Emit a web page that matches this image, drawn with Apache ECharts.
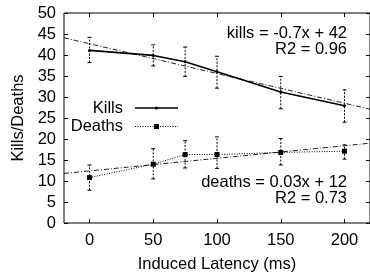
<!DOCTYPE html>
<html><head><meta charset="utf-8">
<script src="https://cdn.jsdelivr.net/npm/echarts@6/dist/echarts.min.js"></script>
<style>html,body{margin:0;padding:0;background:#fff}#c{width:370px;height:278px}</style>
</head><body><div id="c"></div>
<script>
const latency = [0, 50, 75, 100, 150, 200];
const kills = [41.1, 39.9, 38.4, 36.0, 31.2, 27.9];
const killsLow = [38.2, 37.4, 34.9, 32.1, 27.2, 24.0];
const killsHigh = [44.2, 42.4, 41.9, 39.7, 34.9, 31.7];
const deaths = [10.8, 14.0, 16.3, 16.3, 16.8, 17.1];
const deathsLow = [7.8, 10.5, 13.1, 13.0, 13.8, 15.2];
const deathsHigh = [13.8, 17.7, 19.6, 20.5, 20.1, 18.6];
const fitX = [-20, 220];
const killsFit = [44.1, 27.1];
const deathsFit = [11.8, 19.0];
const xTicks = [0, 50, 100, 150, 200];
const legendNames = ['Kills', 'Deaths'];

const FONT = 'Liberation Sans';
const FS = 16.5;
const pairs = (xs, ys) => xs.map((x, i) => [x, ys[i]]);

function errSeries(name, low, high) {
  return {
    type: 'custom', name, z: 1,
    data: latency.map((x, i) => [x, low[i], high[i]]),
    renderItem: (params, api) => {
      const a = api.coord([api.value(0), api.value(1)]);
      const b = api.coord([api.value(0), api.value(2)]);
      const w = 2;
      const st = {stroke: '#000', lineWidth: 1, lineDash: [2, 1.5]};
      return {type: 'group', children: [
        {type: 'line', shape: {x1: a[0], y1: a[1], x2: b[0], y2: b[1]}, style: st},
        {type: 'line', shape: {x1: a[0]-w, y1: a[1], x2: a[0]+w, y2: a[1]}, style: {stroke: '#000', lineWidth: 1}},
        {type: 'line', shape: {x1: b[0]-w, y1: b[1], x2: b[0]+w, y2: b[1]}, style: {stroke: '#000', lineWidth: 1}}
      ]};
    }
  };
}

const chart = echarts.init(document.getElementById('c'), null, {renderer: 'canvas'});
const axisCommon = {
  axisLine: {show: false, onZero: false},
  splitLine: {show: false},
  axisTick: {inside: true, length: 4, lineStyle: {color: '#000'}}
};
const txt = (text, x, y, align) => ({type: 'text', x, y, style: {text, font: FS + 'px ' + FONT, fill: '#000', textAlign: align, textVerticalAlign: 'middle'}});
chart.setOption({
  animation: false,
  textStyle: {fontFamily: FONT},
  grid: {left: 64, right: -1, top: 13, bottom: 55, show: true, borderColor: '#000', borderWidth: 1, backgroundColor: 'transparent'},
  xAxis: [
    Object.assign({}, axisCommon, {
      type: 'value', min: -20, max: 220, position: 'bottom',
      name: 'Induced Latency (ms)', nameLocation: 'middle', nameGap: 33,
      nameTextStyle: {fontFamily: FONT, fontSize: FS, color: '#000'},
      axisTick: {inside: true, length: 4, lineStyle: {color: '#000'}, customValues: xTicks},
      axisLabel: {customValues: xTicks, fontFamily: FONT, fontSize: FS, color: '#000', margin: 9}
    }),
    Object.assign({}, axisCommon, {
      type: 'value', min: -20, max: 220, position: 'top',
      axisTick: {inside: true, length: 4, lineStyle: {color: '#000'}, customValues: xTicks},
      axisLabel: {show: false}
    })
  ],
  yAxis: [
    Object.assign({}, axisCommon, {
      type: 'value', min: 0, max: 50, interval: 5, position: 'left',
      name: 'Kills/Deaths', nameLocation: 'middle', nameGap: 33,
      nameTextStyle: {fontFamily: FONT, fontSize: FS, color: '#000'},
      axisLabel: {fontFamily: FONT, fontSize: FS, color: '#000', margin: 8}
    }),
    Object.assign({}, axisCommon, {
      type: 'value', min: 0, max: 50, interval: 5, position: 'right',
      axisLabel: {show: false}
    })
  ],
  series: [
    errSeries('killsErr', killsLow, killsHigh),
    errSeries('deathsErr', deathsLow, deathsHigh),
    {type: 'line', name: 'killsFit', data: pairs(fitX, killsFit), symbol: 'none', z: 2,
     lineStyle: {color: '#222', width: 1, type: [5, 2, 1, 2]}},
    {type: 'line', name: 'deathsFit', data: pairs(fitX, deathsFit), symbol: 'none', z: 2,
     lineStyle: {color: '#222', width: 1, type: [5, 2, 1, 2]}},
    {type: 'line', name: 'Kills', data: pairs(latency, kills), symbol: 'circle', symbolSize: 3, z: 3,
     itemStyle: {color: '#000'}, lineStyle: {color: '#000', width: 1.6}},
    {type: 'line', name: 'Deaths', data: pairs(latency, deaths), symbol: 'rect', symbolSize: 5, z: 3,
     itemStyle: {color: '#000'}, lineStyle: {color: '#000', width: 1, type: [1, 1.5]}}
  ],
  graphic: [
    txt('kills = -0.7x + 42', 347, 33, 'right'),
    txt('R2 = 0.96', 347, 49, 'right'),
    txt('deaths = 0.03x + 12', 347, 182, 'right'),
    txt('R2 = 0.73', 347, 198, 'right'),
    txt(legendNames[0], 123, 108, 'right'),
    txt(legendNames[1], 123, 126, 'right'),
    {type: 'line', shape: {x1: 135, y1: 108, x2: 178, y2: 108}, style: {stroke: '#000', lineWidth: 1.6}},
    {type: 'circle', shape: {cx: 156.5, cy: 108, r: 1.5}, style: {fill: '#000'}},
    {type: 'line', shape: {x1: 135, y1: 126.5, x2: 178, y2: 126.5}, style: {stroke: '#000', lineWidth: 1, lineDash: [1, 1.5]}},
    {type: 'rect', shape: {x: 154, y: 124, width: 5, height: 5}, style: {fill: '#000'}}
  ]
});
</script></body></html>
